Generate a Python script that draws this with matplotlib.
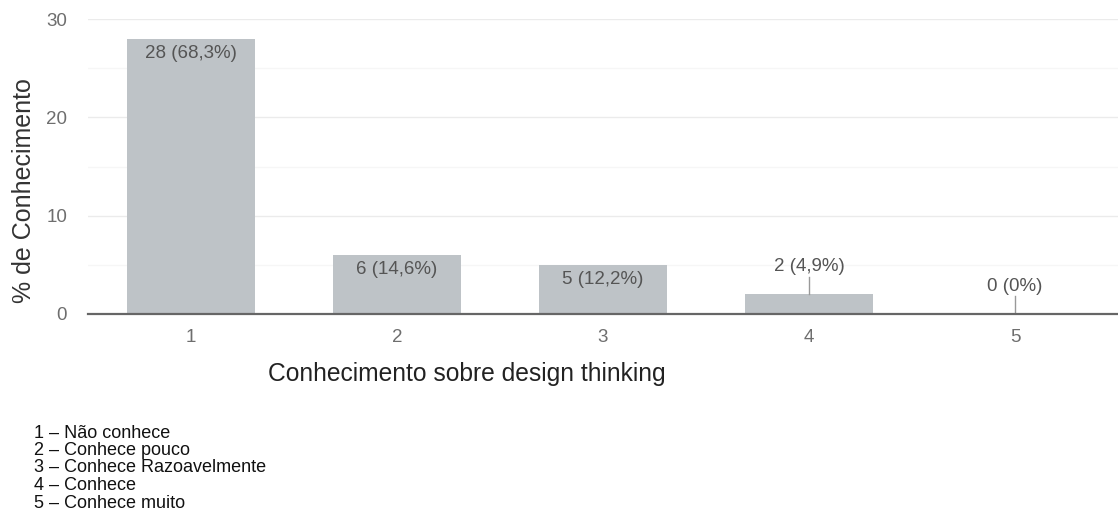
import matplotlib
matplotlib.use("Agg")
import matplotlib.pyplot as plt
from matplotlib.ticker import MultipleLocator

plt.rcParams['font.family'] = ['Liberation Sans', 'DejaVu Sans']

categories = [1, 2, 3, 4, 5]
counts = [28, 6, 5, 2, 0]
percents = ["68,3%", "14,6%", "12,2%", "4,9%", "0%"]
legend_lines = [
    "1 – Não conhece",
    "2 – Conhece pouco",
    "3 – Conhece Razoavelmente",
    "4 – Conhece",
    "5 – Conhece muito",
]

W, H = 1118, 529
fig = plt.figure(figsize=(W / 100, H / 100), dpi=100)
ax = fig.add_axes([88 / W, 1 - 314 / H, 1030 / W, 295 / H])

bar_color = "#bec3c7"
text_color = "#555555"
ax.bar(categories, counts, width=0.62, color=bar_color, zorder=2)

ax.set_xlim(0.5, 5.5)
ax.set_ylim(0, 30)
ax.yaxis.set_major_locator(MultipleLocator(10))
ax.yaxis.set_minor_locator(MultipleLocator(5))
ax.set_xticks(categories)
ax.set_xticklabels([str(c) for c in categories])
ax.grid(axis="y", which="major", color="#ebebeb", linewidth=1, zorder=0)
ax.grid(axis="y", which="minor", color="#f6f6f6", linewidth=1, zorder=0)
for s in ["top", "right", "left"]:
    ax.spines[s].set_visible(False)
ax.spines["bottom"].set_color("#666666")
ax.spines["bottom"].set_linewidth(1.6)
ax.spines["bottom"].set_zorder(3)
ax.tick_params(axis="both", which="both", length=0, labelsize=13.5,
               labelcolor="#6e6e6e")
ax.tick_params(axis="x", pad=11)
ax.tick_params(axis="y", pad=15)

for x, c, p in zip(categories, counts, percents):
    label = f"{c} ({p})"
    if c >= 4:
        ax.text(x, c - 1.5, label, ha="center", va="center", fontsize=13.5,
                color=text_color, zorder=4)
    else:
        ax.plot([x, x], [c, c + 1.8], color="#999999", linewidth=1, zorder=3)
        ax.text(x, c + 2.8, label, ha="center", va="center", fontsize=13.5,
                color=text_color, zorder=4)

fig.text(24 / W, 1 - 191 / H, "% de Conhecimento", rotation=90,
         ha="center", va="center", fontsize=18, color="#333333")
fig.text(467 / W, 1 - 374 / H, "Conhecimento sobre design thinking",
         ha="center", va="center", fontsize=17.7, color="#222222")

for i, line in enumerate(legend_lines):
    fig.text(34 / W, 1 - (433 + i * 17.5) / H, line, ha="left",
             va="center", fontsize=13, color="#111111")

fig.savefig("out.png", dpi=100, facecolor="white")
